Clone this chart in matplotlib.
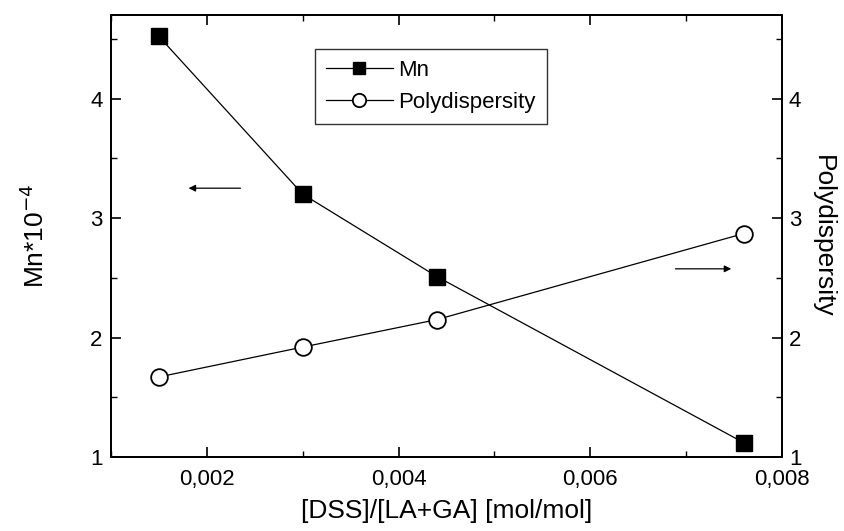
import matplotlib
matplotlib.use("Agg")
import matplotlib.pyplot as plt
from matplotlib.ticker import FuncFormatter, MultipleLocator

plt.rcParams['font.family'] = ['Liberation Sans', 'DejaVu Sans']

x = [0.0015, 0.0030, 0.0044, 0.0076]
mn = [4.52, 3.20, 2.51, 1.12]
poly = [1.67, 1.92, 2.15, 2.87]

xticks = [0.002, 0.004, 0.006, 0.008]
yticks = [1, 2, 3, 4]

fig = plt.figure(figsize=(8.45, 5.31), dpi=100)
ax = fig.add_axes([0.1314, 0.1394, 0.7940, 0.8324])
ax2 = ax.twinx()

ax.plot(x, mn, color='black', lw=0.9, marker='s', ms=11.5, mfc='black', mec='black', label='Mn')
ax2.plot(x, poly, color='black', lw=0.9, marker='o', ms=12, mfc='white', mec='black', mew=1.3,
         label='Polydispersity')

for a in (ax, ax2):
    a.set_ylim(1, 4.70)
    a.set_yticks(yticks)
    a.yaxis.set_minor_locator(MultipleLocator(0.5))
    a.tick_params(which='major', direction='in', length=7, width=1.2, labelsize=16)
    a.tick_params(which='minor', direction='in', length=4.5, width=1.0)
    for s in a.spines.values():
        s.set_linewidth(1.3)

ax.set_xlim(0.001, 0.008)
ax.set_xticks(xticks)
ax.xaxis.set_minor_locator(MultipleLocator(0.001))
ax.xaxis.set_major_formatter(FuncFormatter(lambda v, p: f"{v:.3f}".replace('.', ',')))
ax.tick_params(axis='x', which='both', top=True)
ax.tick_params(axis='y', which='both', right=False)
ax.tick_params(axis='x', pad=9)
ax.tick_params(axis='y', pad=6)
ax2.tick_params(axis='y', pad=5)

ax.set_xlabel('[DSS]/[LA+GA] [mol/mol]', fontsize=19, labelpad=6)
ax.set_ylabel('Mn*10$^{-4}$', fontsize=19, labelpad=30)
ax2.set_ylabel('Polydispersity', fontsize=19, rotation=270, labelpad=24)

ax.annotate('', xy=(0.00178, 3.25), xytext=(0.00238, 3.25),
            arrowprops=dict(arrowstyle='-|>', color='black', lw=0.9, mutation_scale=10))
ax.annotate('', xy=(0.0075, 2.575), xytext=(0.00686, 2.575),
            arrowprops=dict(arrowstyle='-|>', color='black', lw=0.9, mutation_scale=10))

h1, l1 = ax.get_legend_handles_labels()
h2, l2 = ax2.get_legend_handles_labels()
leg = ax2.legend(h1 + h2, l1 + l2, loc='upper left', bbox_to_anchor=(0.304, 0.923),
                 borderaxespad=0.0,
                 fontsize=16, frameon=True, fancybox=False, edgecolor='black',
                 handlelength=3.0, handletextpad=0.25, borderpad=0.5, labelspacing=0.5,
                 markerscale=0.8)
leg.get_frame().set_linewidth(1.0)

fig.savefig('out.png', dpi=100)
